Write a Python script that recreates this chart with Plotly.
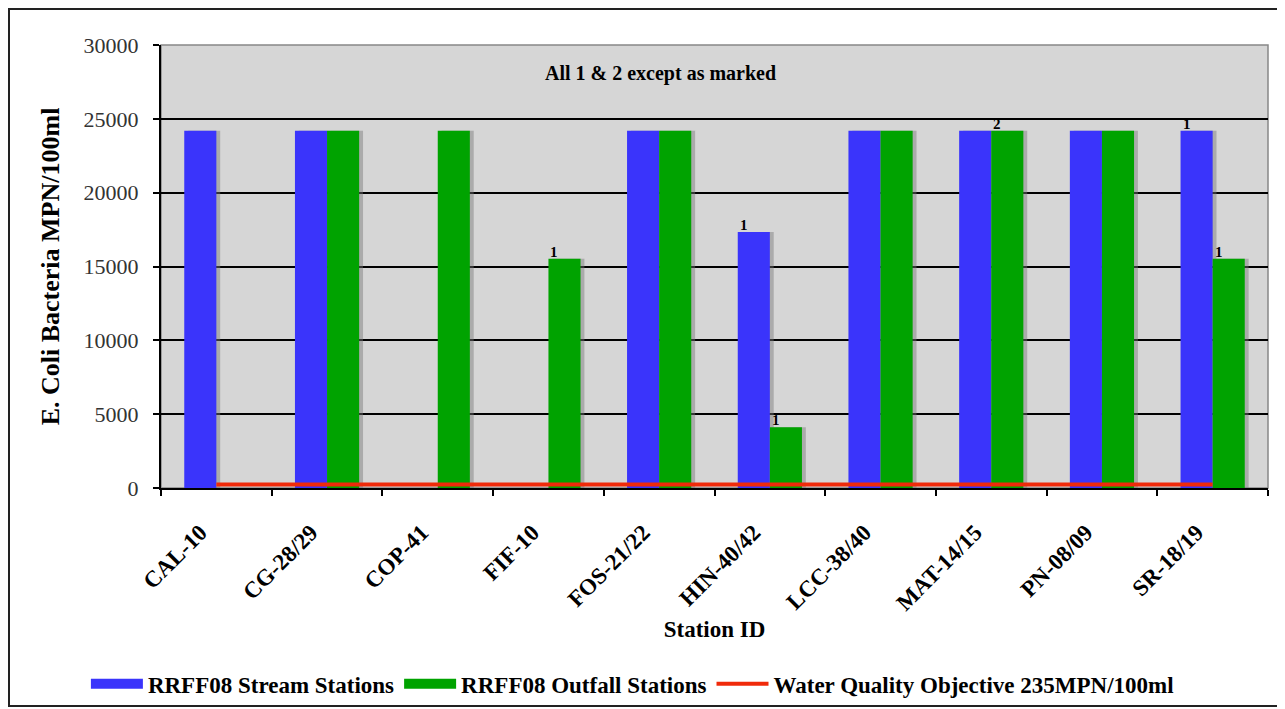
import plotly.graph_objects as go

# ─── DATOS ──────────────────────────────────────────────────
stations = ["CAL-10", "CG-28/29", "COP-41", "FIF-10", "FOS-21/22",
            "HIN-40/42", "LCC-38/40", "MAT-14/15", "PN-08/09", "SR-18/19"]
stream = [24196, 24196, None, None, 24196, 17329, 24196, 24196, 24196, 24196]
outfall = [None, 24196, 24196, 15531, 24196, 4106, 24196, 24196, 24196, 15531]
objective = [235] * len(stations)

# marcas: (estacion, serie, etiqueta)
marks = [("FIF-10", "outfall", "1"), ("HIN-40/42", "stream", "1"),
         ("HIN-40/42", "outfall", "1"), ("MAT-14/15", "outfall", "2"),
         ("SR-18/19", "stream", "1"), ("SR-18/19", "outfall", "1")]

FONT = "Liberation Serif"
BLUE = "#3a34fb"
GREEN = "#00a300"
RED = "#f02a0a"
W = 0.29

fig = go.Figure()

# sombras
for vals, off in [(stream, -W), (outfall, 0)]:
    fig.add_trace(go.Bar(
        x=stations, y=vals, offset=off + 0.035, width=W,
        marker=dict(color="rgba(120,120,120,0.45)", line=dict(width=0)),
        showlegend=False, hoverinfo="skip"))

fig.add_trace(go.Bar(
    x=stations, y=stream, offset=-W, width=W, name="RRFF08 Stream Stations",
    marker=dict(color=BLUE, line=dict(width=0)), showlegend=False))
fig.add_trace(go.Bar(
    x=stations, y=outfall, offset=0, width=W, name="RRFF08 Outfall Stations",
    marker=dict(color=GREEN, line=dict(width=0)), showlegend=False))
fig.add_trace(go.Scatter(
    x=stations, y=objective, mode="lines",
    name="Water Quality Objective 235MPN/100ml",
    line=dict(color=RED, width=4), showlegend=False))

# leyenda (rectangulos anchos como en el original)
for name, col, w in [("RRFF08 Stream Stations", BLUE, 17),
                     ("RRFF08 Outfall Stations", GREEN, 17),
                     ("Water Quality Objective 235MPN/100ml", RED, 4)]:
    fig.add_trace(go.Scatter(x=[None], y=[None], mode="lines",
                             name="<b>%s</b>" % name, line=dict(color=col, width=w)))

# etiquetas 1 / 2
for st, ser, lab in marks:
    i = stations.index(st)
    val = stream[i] if ser == "stream" else outfall[i]
    xs = -26 if ser == "stream" else 6
    fig.add_annotation(x=st, y=val, text="<b>%s</b>" % lab, showarrow=False,
                       yanchor="bottom", xshift=xs, yshift=-3,
                       font=dict(family=FONT, size=15, color="black"))

fig.add_annotation(x=0.451, y=28100, xref="paper", yref="y",
                   text="<b>All 1 & 2 except as marked</b>", showarrow=False,
                   font=dict(family=FONT, size=20, color="black"))

fig.update_layout(
    barmode="overlay",
    width=1277, height=701,
    paper_bgcolor="white",
    plot_bgcolor="#d6d6d6",
    margin=dict(l=153, r=17, t=37, b=221, autoexpand=False),
    font=dict(family=FONT, color="black"),
    legend=dict(orientation="h", xref="container", yref="container",
                x=0.061, xanchor="left", y=0.036, yanchor="middle",
                font=dict(family=FONT, size=23, color="black"),
                itemwidth=52, traceorder="normal", bgcolor="rgba(0,0,0,0)"),
    shapes=[
        dict(type="rect", xref="paper", yref="paper", x0=0, x1=1, y0=0, y1=1,
             line=dict(color="#888888", width=1.5), layer="below"),
        dict(type="rect", xref="paper", yref="paper",
             x0=-152 / 1107, x1=1 + 12 / 1107, y0=-218 / 443, y1=1 + 36 / 443,
             line=dict(color="#222222", width=2)),
    ],
)

fig.update_xaxes(
    title=dict(text="<b>Station ID</b>", font=dict(family=FONT, size=23), standoff=6),
    automargin=False,
    tickangle=-45, tickson="boundaries", ticks="outside", ticklen=6,
    tickcolor="black", tickwidth=2,
    ticklabelstandoff=20, ticklabelshift=-16,
    tickfont=dict(family=FONT, size=23),
    tickprefix="<b>", ticksuffix="</b>",
    showline=True, linecolor="black", linewidth=2,
    showgrid=False)
fig.update_yaxes(
    title=dict(text="<b>E. Coli Bacteria MPN/100ml</b>", font=dict(family=FONT, size=26),
               standoff=16),
    automargin=False,
    range=[0, 30000], dtick=5000, tickformat="d",
    ticks="outside", ticklen=6, tickcolor="black", tickwidth=2,
    ticklabelstandoff=10,
    tickfont=dict(family=FONT, size=22, color="#333333"),
    showline=True, linecolor="black", linewidth=2,
    showgrid=True, gridcolor="black", gridwidth=1.5,
    zeroline=False)

fig.write_html("out.html")
